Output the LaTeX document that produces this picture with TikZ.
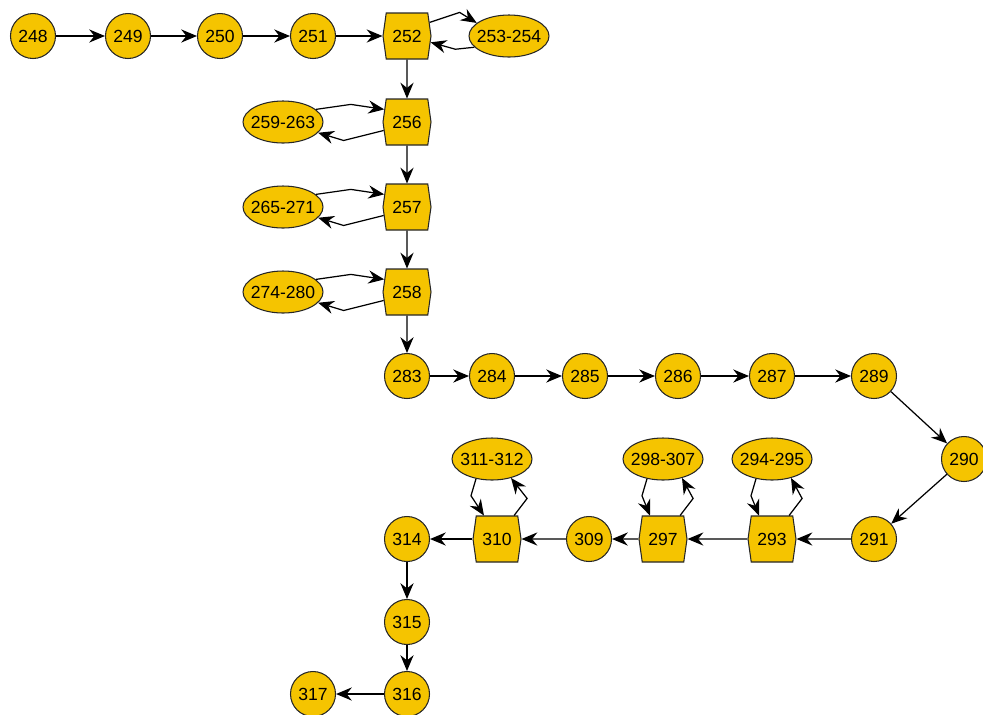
\documentclass[tikz,border=0pt]{standalone}
\usepackage{fontspec}
\setmainfont{Liberation Sans}
\usepackage{tikz}
\usetikzlibrary{positioning, arrows.meta, shapes.geometric, shapes.symbols}

\definecolor{gold}{RGB}{245,196,0}

\begin{document}
\begin{tikzpicture}[->,>={Stealth[length=9pt,width=7.5pt,inset=3pt]},line width=0.7pt,node distance=1.86cm,on grid,
    every node/.style={draw=black!85,line width=0.6pt,fill=gold,inner sep=0pt,font=\fontsize{10}{12}\selectfont},
    stmt/.style={circle,minimum size=0.9cm},
    pred/.style={signal,signal to=east and west,signal pointer angle=164,minimum width=0.96cm,minimum height=0.92cm},
    blk/.style={ellipse,inner xsep=-0.09cm,minimum width=1.6cm,minimum height=0.84cm}]
    \useasboundingbox (0,0) rectangle (19.66,-14.28);

    \node[stmt] (n248) at (0.66,-0.72) {248};
    \node[stmt] (n249) [right=1.9cm of n248] {249};
    \node[stmt] (n250) [right=1.84cm of n249] {250};
    \node[stmt] (n251) [right of=n250] {251};
    \node[pred] (n252) [right=1.88cm of n251] {252};
    \node[blk] (n253) [right=2.04cm of n252] {253-254};
    \node[pred] (n256) [below=1.72cm of n252] {256};
    \node[blk] (n259) [left=2.48cm of n256] {259-263};
    \node[pred] (n257) [below=1.7cm of n256] {257};
    \node[blk] (n265) [left=2.48cm of n257] {265-271};
    \node[pred] (n258) [below=1.7cm of n257] {258};
    \node[blk] (n274) [left=2.48cm of n258] {274-280};
    \node[stmt] (n283) [below=1.68cm of n258] {283};
    \node[stmt] (n284) [right=1.7cm of n283] {284};
    \node[stmt] (n285) [right of=n284] {285};
    \node[stmt] (n286) [right of=n285] {286};
    \node[stmt] (n287) [right=1.88cm of n286] {287};
    \node[stmt] (n289) [right=2.04cm of n287] {289};
    \node[stmt] (n290) [below right=1.66cm and 1.8cm of n289] {290};
    \node[stmt] (n291) [below=3.26cm of n289] {291};
    \node[pred] (n293) [left=2.04cm of n291] {293};
    \node[blk] (n294) [above=1.6cm of n293] {294-295};
    \node[pred] (n297) [left=2.18cm of n293] {297};
    \node[blk] (n298) [above=1.6cm of n297] {298-307};
    \node[stmt] (n309) [left=1.48cm of n297] {309};
    \node[pred] (n310) [left=1.84cm of n309] {310};
    \node[blk] (n311) [above left=1.6cm and 0.1cm of n310] {311-312};
    \node[stmt] (n314) [left=1.8cm of n310] {314};
    \node[stmt] (n315) [below=1.66cm of n314] {315};
    \node[stmt] (n316) [below=1.44cm of n315] {316};
    \node[stmt] (n317) [left=1.88cm of n316] {317};

    \path
    (n248) edge (n249)
    (n249) edge (n250)
    (n250) edge (n251)
    (n251) edge (n252)
    (n252) edge (n256)
    (n256) edge (n257)
    (n257) edge (n258)
    (n258) edge (n283)
    (n283) edge (n284)
    (n284) edge (n285)
    (n285) edge (n286)
    (n286) edge (n287)
    (n287) edge (n289)
    (n289) edge (n290)
    (n290) edge (n291)
    (n291) edge (n293)
    (n293) edge (n297)
    (n297) edge (n309)
    (n309) edge (n310)
    (n310) edge (n314)
    (n314) edge (n315)
    (n315) edge (n316)
    (n316) edge (n317);

    % loops with a kink
    \draw (n252.31) -- ++(0.6,0.2) -- (n253.158);
    \draw (n253.198) -- ++(-0.38,-0.04) -- (n252.345);
    \draw (n259.21) -- ++(0.7,0.1) -- (n256.151);
    \draw (n256.200) -- ++(-0.8,-0.2) -- (n259.343);
    \draw (n265.21) -- ++(0.7,0.1) -- (n257.151);
    \draw (n257.200) -- ++(-0.8,-0.2) -- (n265.343);
    \draw (n274.21) -- ++(0.7,0.1) -- (n258.151);
    \draw (n258.200) -- ++(-0.8,-0.2) -- (n274.343);
    \draw (n294.231) -- ++(-0.1,-0.34) -- (n293.119);
    \draw (n293.54) -- ++(0.26,0.34) -- (n294.315);
    \draw (n298.231) -- ++(-0.1,-0.34) -- (n297.119);
    \draw (n297.54) -- ++(0.26,0.34) -- (n298.315);
    \draw (n311.231) -- ++(-0.1,-0.34) -- (n310.119);
    \draw (n310.54) -- ++(0.26,0.34) -- (n311.315);
\end{tikzpicture}
\end{document}
